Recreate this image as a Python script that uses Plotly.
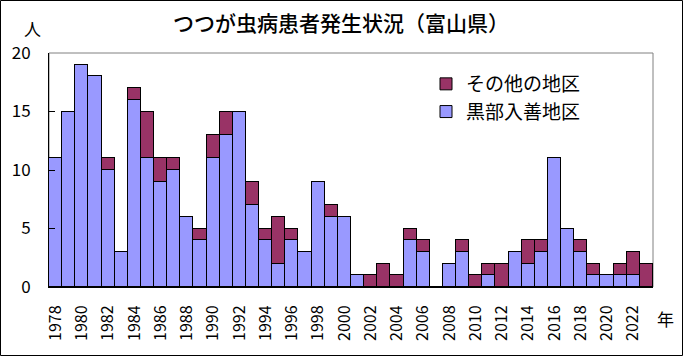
import plotly.graph_objects as go

years = list(range(1978, 2024))
kurobe = [11, 15, 19, 18, 10, 3, 16, 11, 9, 10, 6, 4, 11, 13, 15, 7, 4, 2, 4, 3,
          9, 6, 6, 1, 0, 0, 0, 4, 3, 0, 2, 3, 0, 1, 0, 3, 2, 3, 11, 5,
          3, 1, 1, 1, 1, 0]
other = [0, 0, 0, 0, 1, 0, 1, 4, 2, 1, 0, 1, 2, 2, 0, 2, 1, 4, 1, 0,
         0, 1, 0, 0, 1, 2, 1, 1, 1, 0, 0, 1, 1, 1, 2, 0, 2, 1, 0, 0,
         1, 1, 0, 1, 2, 2]
tick_years = list(range(1978, 2023, 2))
y_ticks = [0, 5, 10, 15, 20]

FONT = "Noto Sans CJK JP"
W, H = 683, 356
L, R, T, B = 49, 653, 53, 287
pw, ph = R - L, B - T

fig = go.Figure()
fig.add_trace(go.Bar(x=years, y=kurobe, name="黒部入善地区",
                     marker=dict(color="#9999FF", line=dict(color="black", width=1))))
fig.add_trace(go.Bar(x=years, y=other, name="その他の地区",
                     marker=dict(color="#993366", line=dict(color="black", width=1))))

def px_x(p):
    return (p - L) / pw

def px_y(p):
    return (B - p) / ph

fig.update_layout(
    width=W, height=H,
    margin=dict(l=L, r=W - R, t=T, b=H - B, pad=0),
    barmode="stack", bargap=0,
    paper_bgcolor="white", plot_bgcolor="white",
    font=dict(family=FONT, color="black", size=14),
    showlegend=True,
    legend=dict(x=px_x(426), y=px_y(65), xanchor="left", yanchor="top",
                traceorder="reversed", font=dict(size=19, family=FONT),
                bgcolor="rgba(0,0,0,0)", itemwidth=30, tracegroupgap=0),
    xaxis=dict(range=[1977.5, 2023.5], tickmode="array", tickvals=tick_years,
               ticktext=[str(y) for y in tick_years], tickangle=-90,
               showline=True, linecolor="black", linewidth=1, ticks="",
               ticklabelstandoff=11,
               showgrid=False, zeroline=False, tickfont=dict(size=16)),
    yaxis=dict(range=[0, 20], tickmode="array", tickvals=y_ticks,
               showline=True, linecolor="black", linewidth=1,
               ticks="inside", ticklen=6, tickcolor="black",
               ticklabelstandoff=14,
               showgrid=False, zeroline=False, tickfont=dict(size=17)),
    shapes=[
        dict(type="rect", xref="paper", yref="paper", x0=0, x1=1, y0=0, y1=1,
             line=dict(color="#808080", width=1), layer="below"),
        dict(type="rect", xref="paper", yref="paper",
             x0=px_x(0.5), x1=px_x(682.5), y0=px_y(355.5), y1=px_y(0.5),
             line=dict(color="black", width=1)),
    ],
    annotations=[
        dict(text="つつが虫病患者発生状況（富山県）", xref="paper", yref="paper",
             x=px_x(341), y=px_y(22), xanchor="center", yanchor="middle",
             showarrow=False, font=dict(size=21, family=FONT, weight=500)),
        dict(text="人", xref="paper", yref="paper", x=px_x(32), y=px_y(29),
             xanchor="center", yanchor="middle", showarrow=False,
             font=dict(size=17, family=FONT)),
        dict(text="年", xref="paper", yref="paper", x=px_x(665), y=px_y(318),
             xanchor="center", yanchor="middle", showarrow=False,
             font=dict(size=17, family=FONT)),
    ],
)

fig.write_html("out.html", config={"displayModeBar": False},
               post_script="document.body.style.margin='0px';")
